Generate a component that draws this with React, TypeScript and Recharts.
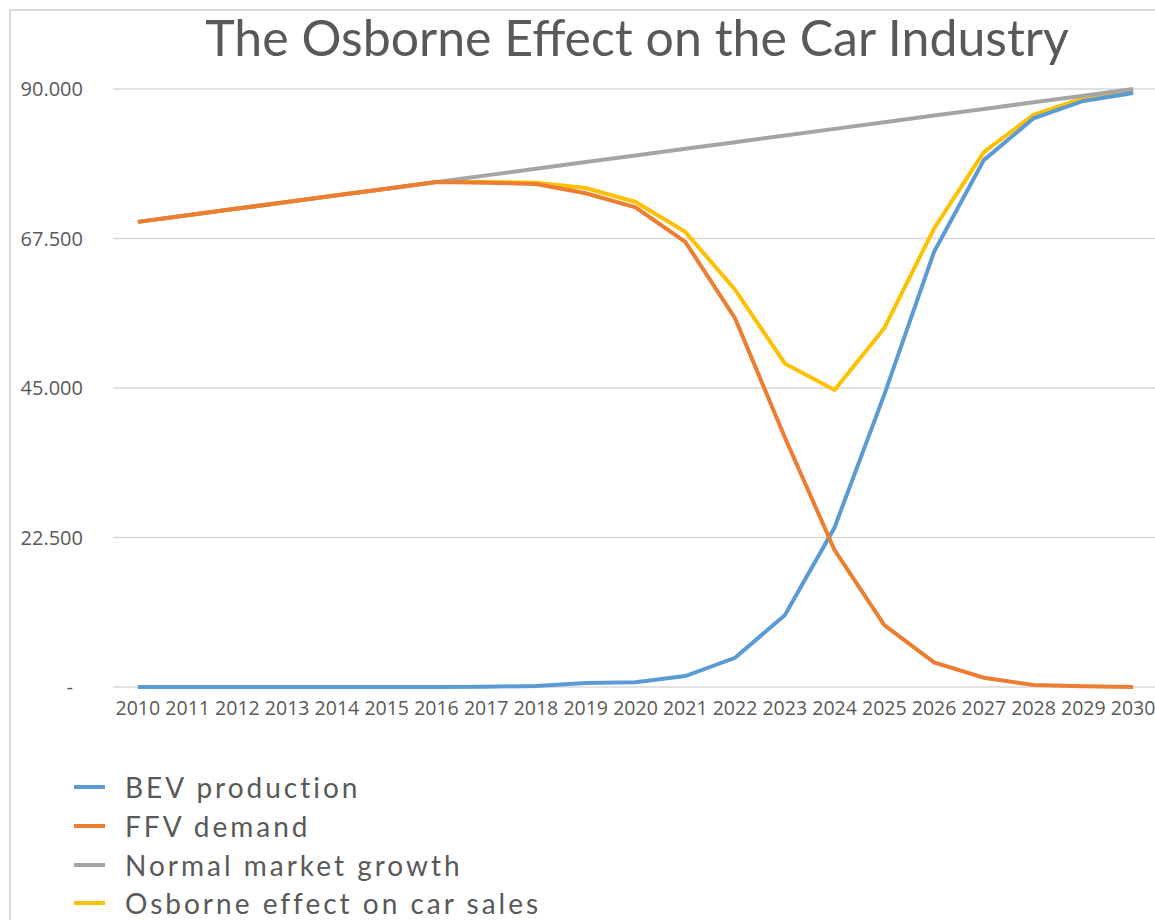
import React from "react";
import { LineChart, Line, XAxis, YAxis, CartesianGrid, Legend } from "recharts";

// Years on the category axis
const years = [
  2010, 2011, 2012, 2013, 2014, 2015, 2016, 2017, 2018, 2019, 2020,
  2021, 2022, 2023, 2024, 2025, 2026, 2027, 2028, 2029, 2030,
];

// Battery-electric vehicle production
const bevProduction = [
  0, 0, 0, 0, 0, 0, 0, 50, 150, 600, 700,
  1650, 4400, 10800, 24000, 44000, 65500, 79300, 85600, 88200, 89400,
];

// Fossil-fuel vehicle demand
const ffvDemand = [
  70000, 71000, 72000, 73000, 74000, 75000, 76000, 75900, 75700, 74300, 72200,
  67000, 55500, 37600, 20600, 9300, 3700, 1400, 300, 100, 0,
];

// Trend of the market without disruption
const normalGrowth = [
  70000, 71000, 72000, 73000, 74000, 75000, 76000, 77000, 78000, 79000, 80000,
  81000, 82000, 83000, 84000, 85000, 86000, 87000, 88000, 89000, 90000,
];

// Total car sales under the Osborne effect
const osborneSales = [
  70000, 71000, 72000, 73000, 74000, 75000, 76000, 76000, 75900, 75100, 73000,
  68500, 59800, 48700, 44700, 54000, 69000, 80500, 86100, 88600, 89800,
];

const yTicks = [0, 22500, 45000, 67500, 90000];

const seriesNames = [
  "BEV production",
  "FFV demand",
  "Normal market growth",
  "Osborne effect on car sales",
];

const seriesColors: Record<string, string> = {
  "BEV production": "#5B9BD5",
  "FFV demand": "#ED7D31",
  "Normal market growth": "#A5A5A5",
  "Osborne effect on car sales": "#FFC000",
};

const data = years.map((year, i) => ({
  year,
  bev: bevProduction[i],
  ffv: ffvDemand[i],
  normal: normalGrowth[i],
  osborne: osborneSales[i],
}));

const TEXT = "#595959";
const GRID = "#D9D9D9";

function formatThousands(v: number): string {
  return String(v).replace(/\B(?=(\d{3})+(?!\d))/g, ".");
}

function YTick(props: any) {
  const { x, y, payload } = props;
  const v = payload.value as number;
  const label = v === 0 ? "-" : formatThousands(v);
  return (
    <text
      x={x}
      y={y}
      dx={v === 0 ? -10 : 0}
      dy={7}
      textAnchor="end"
      fill={TEXT}
      fontFamily="'Open Sans', sans-serif"
      fontSize={20}
    >
      {label}
    </text>
  );
}

function LegendContent(props: any) {
  const payload = [...(props.payload || [])].sort(
    (a: any, b: any) => seriesNames.indexOf(a.value) - seriesNames.indexOf(b.value)
  );
  return (
    <div style={{ display: "flex", flexDirection: "column" }}>
      {payload.map((item: any) => (
        <div
          key={item.value}
          style={{ display: "flex", alignItems: "center", height: 38.7 }}
        >
          <svg width={31} height={6} style={{ display: "block" }}>
            <line x1={0} y1={3} x2={31} y2={3} stroke={item.color} strokeWidth={4} />
          </svg>
          <span
            style={{
              marginLeft: 20,
              fontFamily: "Lato, sans-serif",
              fontSize: 28,
              letterSpacing: 3,
              color: TEXT,
              whiteSpace: "nowrap",
              lineHeight: 1,
            }}
          >
            {item.value}
          </span>
        </div>
      ))}
    </div>
  );
}

export default function App() {
  return (
    <div
      style={{
        position: "fixed",
        left: 0,
        top: 0,
        width: 1155,
        height: 920,
        overflow: "hidden",
        background: "#fff",
      }}
    >
      <div
        style={{
          position: "absolute",
          left: 9,
          top: 9,
          width: 1300,
          height: 1000,
          borderLeft: `2px solid ${GRID}`,
          borderTop: `2px solid ${GRID}`,
        }}
      />
      <div
        style={{
          position: "absolute",
          left: 637,
          top: 12,
          transform: "translateX(-50%)",
          whiteSpace: "nowrap",
          fontFamily: "Lato, sans-serif",
          fontSize: 50,
          lineHeight: 1,
          color: TEXT,
        }}
      >
        The Osborne Effect on the Car Industry
      </div>
      <div style={{ position: "absolute", left: 0, top: 0 }}>
        <LineChart
          width={1160}
          height={920}
          data={data}
          margin={{ top: 89, right: 2, left: 0, bottom: 0 }}
        >
          <CartesianGrid vertical={false} stroke={GRID} strokeWidth={1.5} />
          <XAxis
            dataKey="year"
            type="number"
            domain={[2009.5, 2030.5]}
            ticks={years}
            interval={0}
            height={73}
            axisLine={false}
            tickLine={false}
            tickMargin={8}
            tick={{ fill: TEXT, fontSize: 19.5, fontFamily: "'Open Sans', sans-serif" }}
          />
          <YAxis
            width={113}
            domain={[0, 90000]}
            ticks={yTicks}
            axisLine={false}
            tickLine={false}
            tickMargin={24}
            tick={<YTick />}
          />
          <Legend
            verticalAlign="bottom"
            align="left"
            content={<LegendContent />}
            wrapperStyle={{ top: 768, left: 74, bottom: "auto", width: 600, height: 160 }}
          />
          <Line
            name="Osborne effect on car sales"
            dataKey="osborne"
            stroke={seriesColors["Osborne effect on car sales"]}
            strokeWidth={4}
            dot={false}
            isAnimationActive={false}
          />
          <Line
            name="Normal market growth"
            dataKey="normal"
            stroke={seriesColors["Normal market growth"]}
            strokeWidth={4}
            dot={false}
            isAnimationActive={false}
          />
          <Line
            name="BEV production"
            dataKey="bev"
            stroke={seriesColors["BEV production"]}
            strokeWidth={4}
            dot={false}
            isAnimationActive={false}
          />
          <Line
            name="FFV demand"
            dataKey="ffv"
            stroke={seriesColors["FFV demand"]}
            strokeWidth={4}
            dot={false}
            isAnimationActive={false}
          />
        </LineChart>
      </div>
    </div>
  );
}
